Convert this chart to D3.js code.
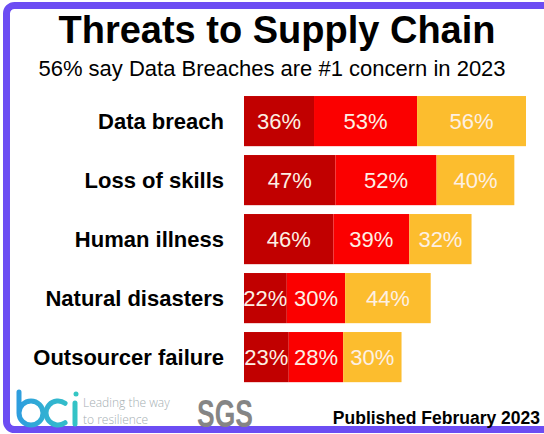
<!DOCTYPE html>
<html>
<head>
<meta charset="utf-8">
<script src="https://cdn.jsdelivr.net/npm/d3@7"></script>
<style>
  html, body { margin: 0; padding: 0; background: #fff; }
  svg { display: block; }
</style>
</head>
<body>
<svg id="chart" width="544" height="434"></svg>
<script>
// Survey data: share of respondents naming each threat, by year
const categories = ["Data breach", "Loss of skills", "Human illness", "Natural disasters", "Outsourcer failure"];
const years = ["2021", "2022", "2023"];
const values2021 = [36, 47, 46, 22, 23];
const values2022 = [53, 52, 39, 30, 28];
const values2023 = [56, 40, 32, 44, 30];
const yearColors = ["#c10000", "#fb0000", "#fcbd2e"];

const title = "Threats to Supply Chain";
const subtitle = "56% say Data Breaches are #1 concern in 2023";
const footnote = "Published February 2023";

const rows = categories.map((c, i) => ({
  category: c,
  "2021": values2021[i],
  "2022": values2022[i],
  "2023": values2023[i]
}));

const svg = d3.select("#chart");
const W = 544, H = 434;

svg.append("rect").attr("width", W).attr("height", H).attr("fill", "#fff");

// Framing border (runs off the right edge)
svg.append("rect")
  .attr("x", 6.5).attr("y", 5.5)
  .attr("width", 620).attr("height", 424)
  .attr("rx", 8)
  .attr("fill", "none")
  .attr("stroke", "#6c4df3")
  .attr("stroke-width", 7);

const font = "'Liberation Sans', Arial, Helvetica, sans-serif";

// Heading
svg.append("text")
  .attr("x", 277).attr("y", 43)
  .attr("text-anchor", "middle")
  .attr("font-family", font).attr("font-weight", "bold")
  .attr("font-size", 38).attr("fill", "#000")
  .text(title);

svg.append("text")
  .attr("x", 272).attr("y", 76)
  .attr("text-anchor", "middle")
  .attr("font-family", font)
  .attr("font-size", 22).attr("fill", "#000")
  .text(subtitle);

// Scales
const stacked = d3.stack().keys(years)(rows);
const total = d3.max(rows, d => years.reduce((s, k) => s + d[k], 0));

const x = d3.scaleLinear().domain([0, total]).range([244, 526]);
const y = d3.scaleBand().domain(categories)
  .range([91.6, 386.6]).paddingInner(0.15).paddingOuter(0.075);
const color = d3.scaleOrdinal().domain(years).range(yearColors);

// Category axis (labels only)
const yAxis = svg.append("g")
  .attr("transform", "translate(224,0)")
  .call(d3.axisLeft(y).tickSize(0).tickPadding(0));
yAxis.select(".domain").remove();
yAxis.selectAll("text")
  .attr("font-family", font).attr("font-weight", "bold")
  .attr("font-size", 22).attr("fill", "#000")
  .attr("dy", "0.36em");

// Stacked bars
const layers = svg.append("g").selectAll("g")
  .data(stacked).join("g")
  .attr("fill", d => color(d.key));

layers.selectAll("rect")
  .data(d => d.map(p => ({ p, key: d.key })))
  .join("rect")
  .attr("x", d => x(d.p[0]))
  .attr("y", d => y(d.p.data.category))
  .attr("width", d => x(d.p[1]) - x(d.p[0]))
  .attr("height", y.bandwidth());

// Value labels centred in each segment
layers.selectAll("text")
  .data(d => d.map(p => ({ p, key: d.key })))
  .join("text")
  .attr("x", d => (x(d.p[0]) + x(d.p[1])) / 2)
  .attr("y", d => y(d.p.data.category) + y.bandwidth() / 2)
  .attr("dy", "0.36em")
  .attr("text-anchor", "middle")
  .attr("font-family", font)
  .attr("font-size", 22)
  .attr("fill", "#fdf0e4")
  .text(d => (d.p[1] - d.p[0]) + "%");

// Footer: bci logo
const grad = svg.append("defs").append("linearGradient")
  .attr("id", "bciGrad").attr("gradientUnits", "userSpaceOnUse")
  .attr("x1", 14).attr("x2", 80).attr("y1", 0).attr("y2", 0);
grad.append("stop").attr("offset", "0%").attr("stop-color", "#2e9be0");
grad.append("stop").attr("offset", "100%").attr("stop-color", "#34c6c4");

const logo = svg.append("g")
  .attr("fill", "none").attr("stroke", "url(#bciGrad)")
  .attr("stroke-width", 5).attr("stroke-linecap", "round");
const bPath = d3.path();
bPath.moveTo(19, 392); bPath.lineTo(19, 413);
bPath.arc(31, 413, 12, Math.PI, Math.PI * 3);
logo.append("path").attr("d", bPath.toString());
const cPath = d3.path();
cPath.arc(58, 413, 12, -Math.PI * 0.3, Math.PI * 0.3, true);
logo.append("path").attr("d", cPath.toString());
logo.append("line").attr("x1", 75).attr("y1", 403).attr("x2", 75).attr("y2", 424);
svg.append("circle").attr("cx", 76).attr("cy", 394).attr("r", 2.5).attr("fill", "#34c6c4");

const tagFont = "'Open Sans', 'DejaVu Sans', sans-serif";
svg.append("text")
  .attr("x", 83).attr("y", 407)
  .attr("font-family", tagFont).attr("font-weight", 300)
  .attr("font-size", 12).attr("fill", "#a4aeb2")
  .text("Leading the way");
svg.append("text")
  .attr("x", 83).attr("y", 424)
  .attr("font-family", tagFont).attr("font-weight", 300)
  .attr("font-size", 12).attr("fill", "#a4aeb2")
  .text("to resilience");

// SGS wordmark
svg.append("text")
  .attr("x", 197).attr("y", 427)
  .attr("font-family", font).attr("font-weight", "bold")
  .attr("font-size", 39).attr("fill", "#858585")
  .attr("textLength", 56).attr("lengthAdjust", "spacingAndGlyphs")
  .text("SGS");

svg.append("text")
  .attr("x", 540).attr("y", 424)
  .attr("text-anchor", "end")
  .attr("font-family", font).attr("font-weight", "bold")
  .attr("font-size", 17.5).attr("fill", "#000")
  .text(footnote);
</script>
</body>
</html>
